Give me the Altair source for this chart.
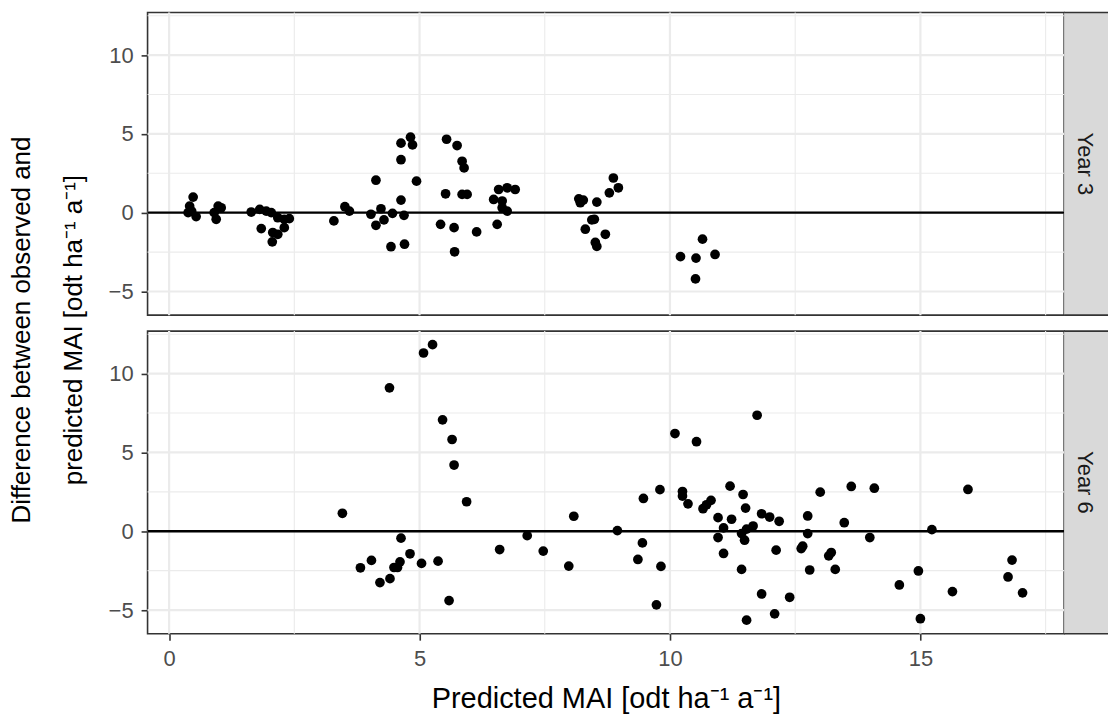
import altair as alt
import pandas as pd

# ---------------- data ----------------
year3_x = [0.48, 0.41, 0.45, 0.54, 0.38, 0.98, 1.04, 0.94, 0.90,
           1.64, 1.81, 1.94, 2.04, 2.17, 2.30, 2.40, 1.84, 2.07, 2.17, 2.30, 2.06,
           3.29, 3.51, 3.60, 4.03, 4.13, 4.23, 4.29, 4.46, 4.13, 4.43,
           4.63, 4.82, 4.86, 4.63, 4.94, 4.63, 4.69, 4.70,
           5.54, 5.75, 5.85, 5.89, 5.52, 5.85, 5.95, 5.42, 5.69, 5.70, 6.14,
           6.55, 6.48, 6.65, 6.58, 6.75, 6.91, 6.75, 6.65,
           8.18, 8.27, 8.21, 8.54, 8.87, 8.97, 8.79, 8.49, 8.44, 8.31, 8.71, 8.51, 8.54,
           10.65, 10.21, 10.52, 10.90, 10.51]
year3_y = [0.99, 0.42, 0.10, -0.25, 0.00, 0.42, 0.31, -0.42, 0.00,
           0.04, 0.21, 0.10, 0.00, -0.32, -0.42, -0.38, -1.01, -1.26, -1.37, -0.95, -1.85,
           -0.52, 0.38, 0.10, -0.10, -0.80, 0.25, -0.46, -0.04, 2.06, -2.16,
           4.41, 4.79, 4.30, 3.36, 2.00, 0.80, -0.17, -2.00,
           4.66, 4.26, 3.26, 2.84, 1.20, 1.16, 1.16, -0.74, -0.95, -2.48, -1.22,
           -0.74, 0.84, 0.74, 1.47, 1.58, 1.47, 0.10, 0.31,
           0.88, 0.80, 0.63, 0.67, 2.20, 1.58, 1.26, -0.42, -0.46, -1.05, -1.37, -1.89, -2.14,
           -1.68, -2.79, -2.88, -2.65, -4.20]

year6_x = [5.26, 5.08, 4.40, 5.46, 5.65, 5.69, 5.94, 3.46, 4.63, 4.04, 3.82, 4.81,
           4.61, 4.56, 4.49, 5.04, 5.37, 4.21, 4.41, 5.59, 6.60, 7.15, 7.47, 7.98,
           8.08, 8.95, 9.47, 9.45, 9.36, 9.80, 9.82, 9.73, 10.10, 10.53, 11.74,
           10.25, 10.25, 10.36, 10.66, 10.73, 10.82, 10.96, 11.20, 11.23, 11.46,
           11.51, 11.07, 10.96, 11.07, 11.43, 11.49, 11.53, 11.66, 11.43, 11.83,
           11.99, 12.18, 12.12, 11.83, 11.53, 12.09, 12.39, 12.75, 12.75, 12.65,
           12.62, 12.79, 13.00, 13.22, 13.17, 13.30, 13.48, 13.62, 13.99, 14.08,
           14.58, 14.96, 15.00, 15.23, 15.64, 15.95, 16.83, 16.75, 17.04]
year6_y = [11.84, 11.31, 9.10, 7.07, 5.82, 4.20, 1.87, 1.14, -0.44, -1.85, -2.32, -1.43,
           -1.94, -2.30, -2.30, -2.04, -1.90, -3.26, -3.01, -4.40, -1.16, -0.28, -1.26, -2.21,
           0.95, 0.04, 2.08, -0.74, -1.79, 2.64, -2.23, -4.67, 6.20, 5.68, 7.36,
           2.52, 2.23, 1.74, 1.43, 1.68, 1.96, 0.86, 2.86, 0.76, 2.33,
           1.47, 0.21, -0.40, -1.41, -0.15, -0.57, 0.13, 0.33, -2.42, 1.11,
           0.90, 0.63, -1.20, -3.98, -5.64, -5.24, -4.19, 0.97, -0.15, -0.95,
           -1.10, -2.46, 2.48, -1.35, -1.56, -2.42, 0.54, 2.84, -0.40, 2.73,
           -3.41, -2.52, -5.55, 0.10, -3.83, 2.65, -1.83, -2.90, -3.91]

panel_labels = ["Year 3", "Year 6"]
x_major = [0, 5, 10, 15]
x_minor = [2.5, 7.5, 12.5, 17.5]
y_major = [-5, 0, 5, 10]
y_minor = [-2.5, 2.5, 7.5, 12.5]
ref_line = [0]
x_title = "Predicted MAI [odt ha\u207b\u00b9 a\u207b\u00b9]"
y_title = ["Difference between observed and",
           "predicted MAI [odt ha\u207b\u00b9 a\u207b\u00b9]"]

# ---------------- layout / style ----------------
FONT = "Liberation Sans"
W = 919.3
H = 303.5
STRIP_W = 44
XDOM = [-0.43, 17.87]
YDOM = [-6.5, 12.7]
BORDER = "#333333"
GRID = "#EBEBEB"

xscale = alt.Scale(domain=XDOM, nice=False, zero=False)
yscale = alt.Scale(domain=YDOM, nice=False, zero=False)


def panel(xs, ys, label, top):
    df = pd.DataFrame({"x": xs, "y": ys})
    if top:
        xaxis = None
        yaxis = alt.Axis(values=y_major, grid=False, domain=False, title=y_title,
                         titleFontSize=26, titleFont=FONT, titleColor="black",
                         titleFontWeight="normal", titleAngle=270, titleAlign="center",
                         titleBaseline="alphabetic", titleX=-118.5, titleY=318.0,
                         titleLineHeight=52.5)
    else:
        xaxis = alt.Axis(values=x_major, grid=False, domain=False, title=x_title,
                         titleFontSize=29, titleFont=FONT, titleColor="black",
                         titleFontWeight="normal", titleBaseline="alphabetic",
                         titleAlign="center", titleX=W / 2, titleY=73.7)
        yaxis = alt.Axis(values=y_major, grid=False, domain=False, title=None)

    X = lambda f: alt.X(f, scale=xscale, axis=xaxis)
    Y = lambda f: alt.Y(f, scale=yscale, axis=yaxis)

    minor_x = alt.Chart(pd.DataFrame({"gx": x_minor})).mark_rule(
        color=GRID, strokeWidth=1.1).encode(x=X("gx:Q"))
    minor_y = alt.Chart(pd.DataFrame({"gy": y_minor})).mark_rule(
        color=GRID, strokeWidth=1.1).encode(y=Y("gy:Q"))
    major_x = alt.Chart(pd.DataFrame({"gx": x_major})).mark_rule(
        color=GRID, strokeWidth=2.2).encode(x=X("gx:Q"))
    major_y = alt.Chart(pd.DataFrame({"gy": y_major})).mark_rule(
        color=GRID, strokeWidth=2.2).encode(y=Y("gy:Q"))
    hline = alt.Chart(pd.DataFrame({"h": ref_line})).mark_rule(
        color="black", strokeWidth=2.3).encode(y=Y("h:Q"))
    pts = alt.Chart(df).mark_circle(size=95, color="black", opacity=1).encode(
        x=X("x:Q"), y=Y("y:Q"))

    lab = pd.DataFrame({"label": [label]})
    strip = alt.Chart(lab).mark_rect(color="#D9D9D9").encode(
        x=alt.value(W), x2=alt.value(W + STRIP_W), y=alt.value(0), y2=alt.value(H))
    strip_top = alt.Chart(lab).mark_rule(color=BORDER, strokeWidth=1.6).encode(
        x=alt.value(W), x2=alt.value(W + STRIP_W), y=alt.value(0))
    strip_bot = alt.Chart(lab).mark_rule(color=BORDER, strokeWidth=1.6).encode(
        x=alt.value(W), x2=alt.value(W + STRIP_W), y=alt.value(H))
    strip_txt = alt.Chart(lab).mark_text(angle=90, fontSize=22, font=FONT,
                                         color="#1A1A1A").encode(
        x=alt.value(W + 20.7), y=alt.value(H / 2), text="label:N")

    return alt.layer(minor_x, minor_y, major_x, major_y, hline, pts,
                     strip, strip_top, strip_bot, strip_txt).properties(width=W, height=H)


chart = alt.vconcat(
    panel(year3_x, year3_y, panel_labels[0], True),
    panel(year6_x, year6_y, panel_labels[1], False),
    spacing=15.5, bounds="flush",
).properties(
    padding={"left": 7, "top": 9.5, "right": 0, "bottom": 0},
    background="white",
).configure_view(
    stroke=BORDER, strokeWidth=1.6,
).configure_axis(
    labelFont=FONT, labelFontSize=22, labelColor="#4D4D4D", labelPadding=8,
    tickColor=BORDER, tickWidth=1.6, tickSize=6.5,
)

chart.save("out.html", embed_options={"renderer": "svg", "actions": False})
